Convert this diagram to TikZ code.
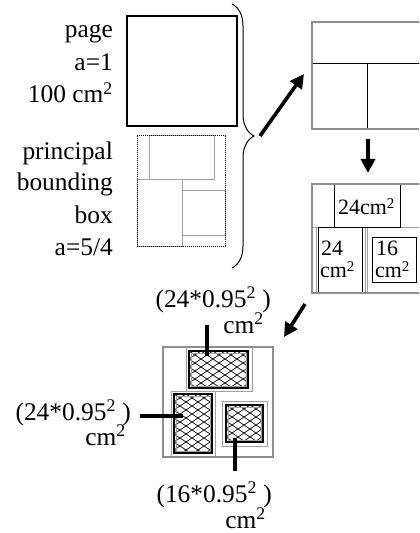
\documentclass[tikz,border=0pt]{standalone}
\usepackage{fontspec}
\setmainfont{Liberation Serif}
\usetikzlibrary{arrows.meta,decorations.pathreplacing}
\definecolor{boxgray}{HTML}{8E8E8E}
\definecolor{linegray}{HTML}{A0A0A0}
\tikzset{
  lbl/.style={font=\fontsize{25.5}{28}\selectfont, anchor=base east, inner sep=0pt, text depth=0pt},
  boxtxt/.style={font=\fontsize{22}{18}\selectfont, inner sep=0pt, anchor=base west, text depth=0pt},
  outerbox/.style={draw=boxgray, line width=2bp},
  innergray/.style={draw=linegray, line width=1bp},
  blackline/.style={draw=black, line width=1bp},
  bigarrow/.style={line width=3.6bp, -{Triangle[length=14bp,width=14bp]}},
  leader/.style={line width=4bp},
  hatchline/.style={draw=black!90, line width=0.8bp},
  hatchborder/.style={draw=black, line width=1.5bp}
}
\newcommand\myhatch[4]{%
  \begin{scope}
    \clip (#1,#2) rectangle (#3,#4);
    \foreach \k in {-10,...,10} {
      \draw[hatchline] ({#1+12*\k},#2) -- ++(105,70);
      \draw[hatchline] ({#1+12*\k},#2) -- ++(-105,70);
    }
  \end{scope}
  \draw[draw=linegray, line width=0.8bp] ({#1+2},{#2+2}) rectangle ({#3-2},{#4-2});
  \draw[hatchborder] (#1,#2) rectangle (#3,#4);
}
\newcommand\bigsup{\raisebox{0.5ex}{\fontsize{15}{15}\selectfont 2}}
\begin{document}
\begin{tikzpicture}[x=1bp,y=-1bp]
\useasboundingbox (0,0) rectangle (419,533);
\clip (0,0) rectangle (419,533);

% left labels
\node[lbl] (t1) at (113,38) {page};
\node[lbl] (t2) at (113,71) {a=1};
\node[lbl] (t3) at (113,103) {100 cm\textsuperscript{2}};
\node[lbl] (t4) at (113,160) {principal};
\node[lbl] (t5) at (113,191) {bounding};
\node[lbl] (t6) at (113,223) {box};
\node[lbl] (t7) at (113,255) {a=5/4};

% page box
\draw[line width=2.2bp] (127,16) rectangle (237,126);

% principal bounding box
\draw[innergray] (149,136) rectangle (214,180);
\draw[innergray] (137,180) rectangle (182,246);
\draw[innergray] (182,191) rectangle (225,235);
\draw[densely dotted, line width=1bp] (137,136) rectangle (225,246);

% brace
\draw[line width=1bp, decorate, decoration={brace, amplitude=22bp}] (232,4) -- (232,268);
\coordinate (bracetip) at (260,136);

% top right box
\draw[blackline] (312,64) -- (430,64);
\draw[blackline] (367,64) -- (367,129);
\draw[outerbox] (312,22) rectangle (430,129);
\coordinate (boxA) at (304,74);
\coordinate (boxAbot) at (368,139);

% second box
\draw[innergray] (312,227) -- (430,227);
\draw[innergray] (316,227) rectangle (365,293);
\draw[innergray] (367,227) rectangle (430,293);
\draw[blackline] (334,184) rectangle (400,227);
\draw[blackline] (318,227) rectangle (362,293);
\draw[blackline] (372,237) rectangle (416,282);
\draw[outerbox] (312,184) rectangle (430,293);
\node[boxtxt] (b1) at (338,214) {24cm\bigsup};
\node[boxtxt] (b2) at (321,255) {24};
\node[boxtxt] (b2b) at (320,277) {cm\bigsup};
\node[boxtxt] (b3) at (376,255) {16};
\node[boxtxt] (b3b) at (375,277) {cm\bigsup};
\coordinate (boxBtop) at (368,173);
\coordinate (boxBbot) at (305,304);

% third box
\draw[innergray] (186,347) rectangle (252,391);
\draw[innergray] (171,391) rectangle (215,457);
\draw[innergray] (222,401) rectangle (267,446);
\myhatch{189}{351}{248}{388}
\myhatch{174}{394}{212}{453}
\myhatch{226}{405}{263}{442}
\draw[outerbox] (163,347) rectangle (273,457);
\coordinate (boxC) at (284,337);

% labels with leaders
\node[lbl] (l1) at (271,307) {(24*0.95\textsuperscript{2}\ )};
\node[lbl] (l1b) at (264,333) {cm\textsuperscript{2}};
\node[lbl] (l2) at (131,420) {(24*0.95\textsuperscript{2}\ )};
\node[lbl] (l2b) at (126,445) {cm\textsuperscript{2}};
\node[lbl] (l3) at (272,502) {(16*0.95\textsuperscript{2}\ )};
\node[lbl] (l3b) at (266,528) {cm\textsuperscript{2}};
\coordinate (a1) at (207,325); \coordinate (a1e) at (207,356);
\coordinate (a2) at (140,416); \coordinate (a2e) at (183,416);
\coordinate (a3) at (235,471); \coordinate (a3e) at (235,438);
\draw[leader] (a1) -- (a1e);
\draw[leader] (a2) -- (a2e);
\draw[leader] (a3) -- (a3e);

% arrows
\draw[bigarrow] (bracetip) -- (boxA);
\draw[bigarrow] (boxAbot) -- (boxBtop);
\draw[bigarrow] (boxBbot) -- (boxC);
\end{tikzpicture}
\end{document}
